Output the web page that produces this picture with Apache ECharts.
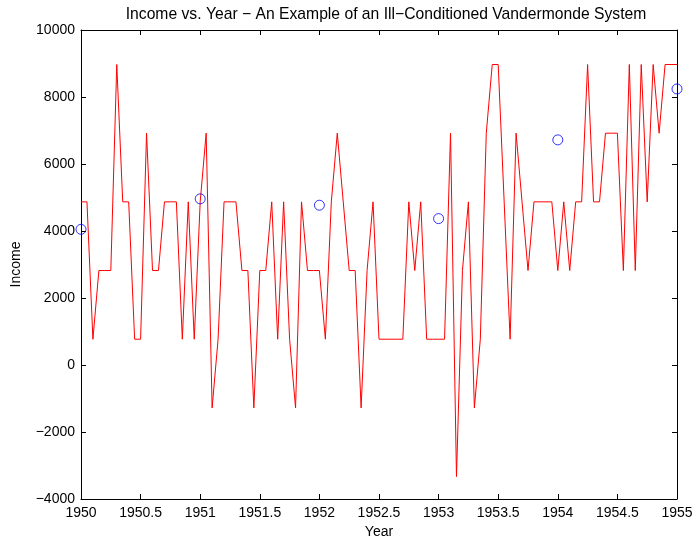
<!DOCTYPE html>
<html>
<head>
<meta charset="utf-8">
<script src="https://cdn.jsdelivr.net/npm/echarts@6/dist/echarts.min.js"></script>
<style>html,body{margin:0;padding:0;background:#fff;}#c{width:696px;height:541px;}</style>
</head>
<body>
<div id="c"></div>
<script>
// Red curve: x = 1950:0.05:1955 (101 points)
var curveYears = [];
for (var k = 0; k <= 100; k++) { curveYears.push(+(1950 + k * 0.05).toFixed(2)); }
var curveIncome = [
  4870,4870,770,2820,2820,2820,8970,4870,4870,770,770,6920,2820,2820,4870,4870,4870,
  770,4870,770,4870,6920,-1280,770,4870,4870,4870,2820,2820,-1280,2820,2820,4870,770,4870,
  770,-1280,4870,2820,2820,2820,770,4870,6920,4870,2820,2820,-1280,2820,4870,770,770,
  770,770,770,4870,2820,4870,770,770,770,770,6920,-3330,2820,4870,-1280,770,
  6920,8970,8970,4870,770,6920,4870,2820,4870,4870,4870,4870,2820,4870,2820,4870,4870,
  8970,4870,4870,6920,6920,6920,2820,8970,2820,8970,4870,8970,6920,8970,8970,8970
];
// Blue circles: data points
var pointYears = [1950, 1951, 1952, 1953, 1954, 1955];
var pointIncome = [4050, 4960, 4770, 4370, 6720, 8240];

var yTicks = [10000, 8000, 6000, 4000, 2000, 0, -2000, -4000];

var lineData = curveYears.map(function (x, i) { return [x, curveIncome[i]]; });
var ptData = pointYears.map(function (x, i) { return [x, pointIncome[i]]; });

var font = 'Liberation Sans, Arial, Helvetica, sans-serif';
var axLine = { show: true, onZero: false, lineStyle: { color: '#000', width: 1 } };
var tickIn = { show: true, inside: true, length: 5, lineStyle: { color: '#000', width: 1 } };

var chart = echarts.init(document.getElementById('c'), null, { renderer: 'canvas' });
chart.setOption({
  animation: false,
  backgroundColor: '#fff',
  title: {
    text: 'Income vs. Year \u2212 An Example of an Ill\u2212Conditioned Vandermonde System',
    left: 381, top: 2, textAlign: 'center',
    textStyle: { fontFamily: font, fontSize: 15.7, fontWeight: 'normal', color: '#000' }
  },
  grid: { left: 81, right: 19, top: 30, bottom: 42, containLabel: false, outerBoundsMode: 'none' },
  xAxis: [{
    type: 'value', min: 1950, max: 1955, interval: 0.5, position: 'bottom',
    name: 'Year', nameLocation: 'middle', nameGap: 22,
    nameTextStyle: { fontFamily: font, fontSize: 14, color: '#000' },
    axisLine: axLine, axisTick: tickIn, splitLine: { show: false },
    axisLabel: { fontFamily: font, fontSize: 14, color: '#000', margin: 7,
      formatter: function (v) { return String(+v.toFixed(1)); } }
  }, {
    type: 'value', min: 1950, max: 1955, interval: 0.5, position: 'top',
    axisLine: axLine, axisTick: tickIn, splitLine: { show: false }, axisLabel: { show: false }
  }],
  yAxis: [{
    type: 'value', min: -4000, max: 10000, interval: 2000, position: 'left',
    name: 'Income', nameLocation: 'middle', nameGap: 58, nameRotate: 90,
    nameTextStyle: { fontFamily: font, fontSize: 14, color: '#000' },
    axisLine: axLine, axisTick: tickIn, splitLine: { show: false },
    axisLabel: { fontFamily: font, fontSize: 14, color: '#000', margin: 6,
      formatter: function (v) { return v < 0 ? '\u2212' + Math.abs(v) : String(v); } }
  }, {
    type: 'value', min: -4000, max: 10000, interval: 2000, position: 'right',
    axisLine: axLine, axisTick: tickIn, splitLine: { show: false }, axisLabel: { show: false }
  }],
  series: [{
    type: 'line', data: lineData, xAxisIndex: 0, yAxisIndex: 0,
    showSymbol: false, symbol: 'none',
    lineStyle: { color: '#ff0000', width: 1 }, z: 2
  }, {
    type: 'scatter', data: ptData, xAxisIndex: 0, yAxisIndex: 0,
    symbol: 'circle', symbolSize: 10,
    itemStyle: { color: 'rgba(0,0,0,0)', borderColor: '#0000ff', borderWidth: 1 }, z: 3
  }]
});
</script>
</body>
</html>
